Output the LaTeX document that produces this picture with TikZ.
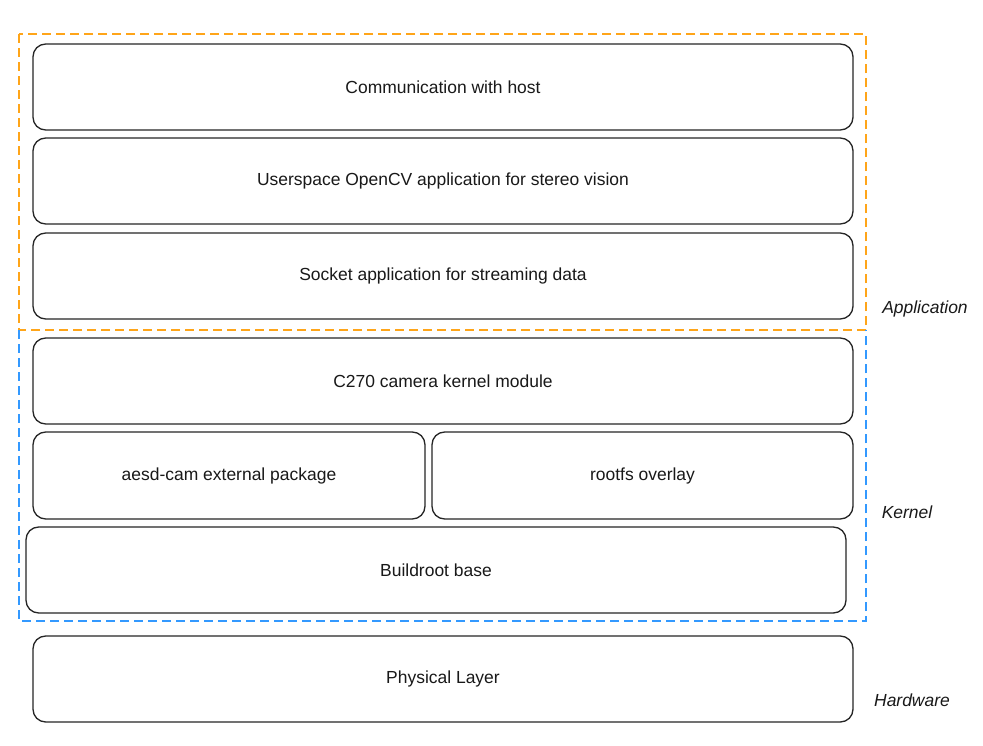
\documentclass[tikz,border=0pt]{standalone}
\usepackage{fontspec}
\setmainfont{Liberation Sans}
\begin{document}
\begin{tikzpicture}[x=0.75pt,y=-0.75pt,
  box/.style={draw=black!85, line width=1pt, rounded corners=9.5pt, inner sep=0pt, minimum height=64.5pt, font=\fontsize{13.1}{15}\selectfont, text=black!90},
  wide/.style={minimum width=615pt},
  grp/.style={line width=2.1pt, dash pattern=on 6.75pt off 3.75pt},
  lbl/.style={font=\fontsize{13.1}{15}\selectfont\itshape, text=black!90}]
\useasboundingbox[fill=white] (0,0) rectangle (983,746);
\node[box, wide] (comm) at (443,87) {Communication with host};
\node[box, wide] (user) at (443,181) {Userspace OpenCV application for stereo vision};
\node[box, wide] (sock) at (443,276) {Socket application for streaming data};
\node[box, wide] (c270) at (443,381) {C270 camera kernel module};
\node[box, minimum width=294pt, minimum height=65.25pt] (aesd) at (229,475.5) {aesd-cam external package};
\node[box, minimum width=315.75pt, minimum height=65.25pt] (rootfs) at (642.5,475.5) {rootfs overlay};
\node[box, wide] (build) at (436,570) {Buildroot base};
\node[box, wide] (phys) at (443,679) {Physical Layer};
\draw[grp, draw={rgb,255:red,255;green,165;blue,25}] (19,34) rectangle (866,330);
\draw[grp, draw={rgb,255:red,51;green,153;blue,255}] (19,330) -- (19,621) -- (866,621) -- (866,330);
\node[lbl] (app) at (925,309) {Application};
\node[lbl] (ker) at (907,512) {Kernel};
\node[lbl] (hw) at (912,700) {Hardware};
\end{tikzpicture}
\end{document}
